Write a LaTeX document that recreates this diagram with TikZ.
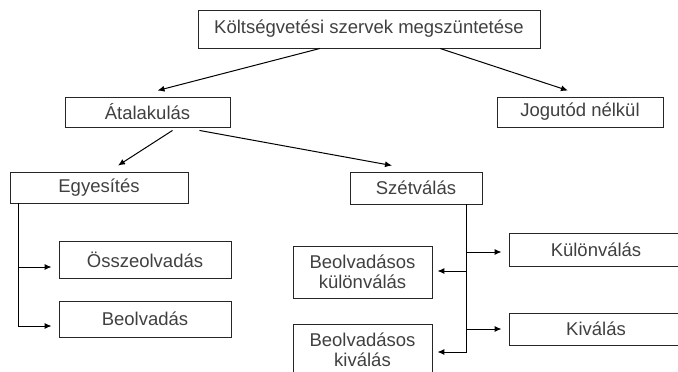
\documentclass[tikz,border=0pt]{standalone}
\usepackage{fontspec}
\setmainfont{Liberation Sans}
\usetikzlibrary{arrows.meta}

\begin{document}
\begin{tikzpicture}[x=1pt,y=-1pt,>={Latex[length=7pt,width=6pt]},
    doboz/.style={draw=black!85,line width=0.9pt,text=black!75,minimum height=32pt,inner sep=2pt,
      font=\fontsize{18.5}{20.5}\selectfont,align=center}]
      \clip (0,0) rectangle (678,372);
      \node[doboz,minimum width=342pt,minimum height=38pt] (1) at (369,29) {Költségvetési szervek megszüntetése};
      \node[doboz,minimum width=165pt,minimum height=30pt] (2) at (147.5,112) {Átalakulás};
      \node[doboz,minimum width=166pt,minimum height=30pt] (3) at (580,112) {Jogutód nélkül};
      \node[doboz,minimum width=178pt,minimum height=31pt] (4) at (99,187.5) {Egyesítés};
      \node[doboz,minimum width=132pt] (5) at (416,188) {Szétválás};
      \node[doboz,minimum width=172pt,minimum height=37pt] (6) at (145,260) {Összeolvadás};
      \node[doboz,minimum width=172pt,minimum height=36pt] (7) at (145,319) {Beolvadás};
      \node[doboz,minimum width=139pt,minimum height=52pt] (8) at (362.5,272) {Beolvadásos\\különválás};
      \node[doboz,minimum width=139pt,minimum height=52pt] (9) at (362.5,350) {Beolvadásos\\kiválás};
      \node[doboz,minimum width=174pt,minimum height=33pt] (10) at (596,249.5) {Különválás};
      \node[doboz,minimum width=174pt] (11) at (596,329) {Kiválás};

      \draw[->,line width=1pt] ([xshift=-49pt]1.south) -- ([xshift=10pt,yshift=6pt]2.north);
      \draw[->,line width=1pt] ([xshift=71pt]1.south) -- ([xshift=-12pt,yshift=6pt]3.north);
      \draw[->,line width=1pt] ([xshift=25pt,yshift=-3pt]2.south) -- ([xshift=19pt,yshift=6pt]4.north);
      \draw[->,line width=1pt] ([xshift=52pt,yshift=-3pt]2.south) -- ([xshift=-24pt,yshift=6pt]5.north);

      \draw[->,line width=1pt] ([xshift=9pt]4.south west) |- ([xshift=-7pt,yshift=-7pt]6.west);
      \draw[->,line width=1pt] ([xshift=9pt]4.south west) |- ([xshift=-7pt,yshift=-7pt]7.west);

      \draw[->,line width=1pt] ([xshift=-16pt]5.south east) |- ([xshift=-7pt,yshift=-2.5pt]10.west);
      \draw[->,line width=1pt] ([xshift=-16pt]5.south east) |- ([xshift=5pt,yshift=1pt]8.east);
      \draw[->,line width=1pt] ([xshift=-16pt]5.south east) |- ([xshift=-7pt]11.west);
      \draw[->,line width=1pt] ([xshift=-16pt]5.south east) |- ([xshift=5pt,yshift=-2pt]9.east);
    \end{tikzpicture}
\end{document}
